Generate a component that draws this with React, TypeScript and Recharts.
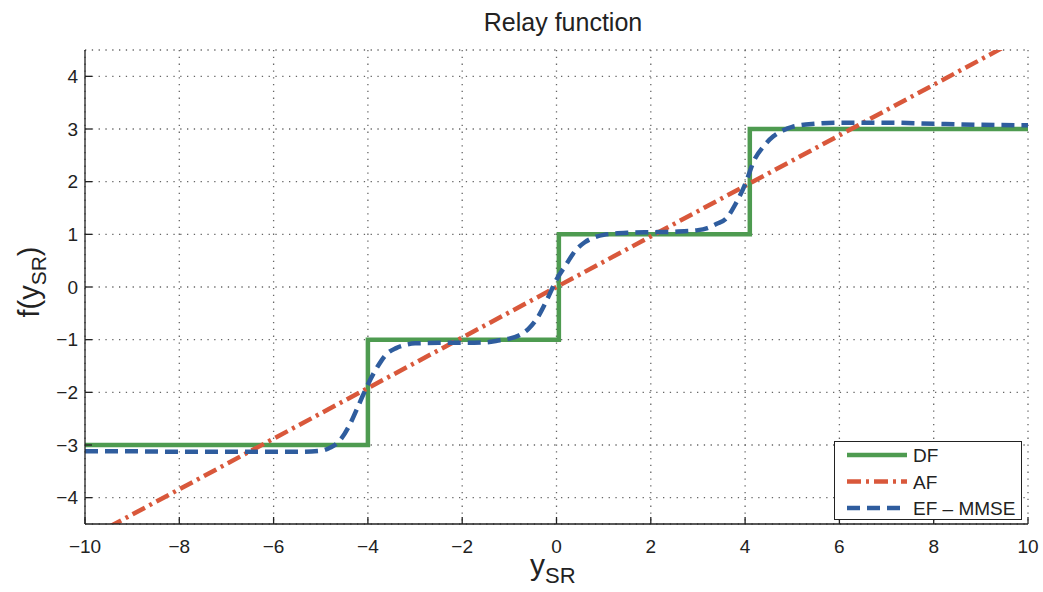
import { LineChart, Line, XAxis, YAxis, CartesianGrid, Legend } from 'recharts';

const xTicks = [-10, -8, -6, -4, -2, 0, 2, 4, 6, 8, 10];
const yTicks = [-4, -3, -2, -1, 0, 1, 2, 3, 4];

// DF - hard decision staircase
const dfX = [-10, -4, -4, 0.05, 0.05, 4.1, 4.1, 10];
const dfY = [-3, -3, -1, -1, 1, 1, 3, 3];

// AF - straight line (runs out of the box at both ends)
const afX = [-10, 10];
const afY = [-4.8, 4.8];

// EF - MMSE, smoothed steps
const efX = [-10, -9, -8, -7, -6, -5.5, -5, -4.8, -4.6, -4.4, -4.2, -4, -3.8, -3.6, -3.4, -3.2, -3, -2.5, -2, -1.5, -1.2, -1, -0.8, -0.6, -0.4, -0.2, 0, 0.2, 0.4, 0.6, 0.8, 1, 1.5, 2, 2.5, 3, 3.2, 3.4, 3.6, 3.8, 4, 4.2, 4.4, 4.6, 4.8, 5, 5.5, 6, 7, 8, 9, 10];
const efY = [-3.12, -3.12, -3.13, -3.13, -3.13, -3.13, -3.11, -3.05, -2.92, -2.64, -2.25, -1.85, -1.52, -1.27, -1.16, -1.1, -1.07, -1.06, -1.06, -1.05, -1.01, -0.98, -0.92, -0.8, -0.58, -0.24, 0.14, 0.42, 0.69, 0.85, 0.94, 0.99, 1.03, 1.04, 1.05, 1.08, 1.12, 1.2, 1.3, 1.58, 1.95, 2.42, 2.68, 2.86, 2.97, 3.04, 3.1, 3.12, 3.12, 3.1, 3.08, 3.07];

const toPoints = (xs: number[], ys: number[]) => xs.map((x, i) => ({ x, y: ys[i] }));

const dfData = toPoints(dfX, dfY);
const afData = toPoints(afX, afY);
const efData = toPoints(efX, efY);

const FONT = '"Liberation Sans", Arial, Helvetica, sans-serif';
const INK = '#222';

const seriesStyle: Record<string, { color: string; dash?: string; width: number }> = {
  DF: { color: '#4e9b50', width: 4.5 },
  AF: { color: '#d9583b', dash: '14 5 3 5', width: 4.5 },
  'EF \u2013 MMSE': { color: '#2f5d9e', dash: '13 7', width: 4.5 },
};

const minus = (v: number) => String(v).replace('-', '\u2212');

const LegendBox = () => {
  const names = Object.keys(seriesStyle);
  return (
    <div
      style={{
        width: 188,
        height: 79,
        border: `1.5px solid ${INK}`,
        background: '#fff',
        boxSizing: 'border-box',
      }}
    >
      <svg width={186} height={77} style={{ display: 'block' }}>
        {names.map((name, i) => {
          const s = seriesStyle[name];
          const cy = 13 + i * 26.5;
          return (
            <g key={name}>
              <line x1={12} x2={72} y1={cy} y2={cy} stroke={s.color} strokeWidth={s.width} strokeDasharray={s.dash} />
              <text x={78} y={cy + 7} fontSize={19} fill={INK} fontFamily={FONT}>
                {name}
              </text>
            </g>
          );
        })}
      </svg>
    </div>
  );
};

const axisCommon = {
  stroke: INK,
  tickSize: -7,
  allowDataOverflow: true,
  axisLine: { stroke: INK, strokeWidth: 1.3 },
  tickLine: { stroke: INK, strokeWidth: 1.3 },
};

export default function App() {
  return (
    <div style={{ position: 'absolute', left: 0, top: 0, width: 1043, height: 592, background: '#fff', fontFamily: FONT }}>
      <LineChart width={1043} height={592} margin={{ top: 50, right: 15, bottom: 0, left: 0 }}>
        <CartesianGrid stroke="#666" strokeWidth={1.3} strokeDasharray="1.3 5.5" />
        <XAxis
          {...axisCommon}
          dataKey="x"
          type="number"
          domain={[-10, 10]}
          ticks={xTicks}
          height={68}
          tickMargin={23}
          tickFormatter={minus}
          tick={{ fontSize: 19, fill: INK, fontFamily: FONT }}
        />
        <XAxis
          {...axisCommon}
          xAxisId="top"
          orientation="top"
          type="number"
          domain={[-10, 10]}
          ticks={xTicks}
          height={0}
          tick={false}
        />
        <YAxis
          {...axisCommon}
          type="number"
          domain={[-4.5, 4.5]}
          ticks={yTicks}
          width={85}
          tickMargin={14}
          tickFormatter={minus}
          tick={{ fontSize: 19, fill: INK, fontFamily: FONT }}
        />
        <YAxis
          {...axisCommon}
          yAxisId="right"
          orientation="right"
          type="number"
          domain={[-4.5, 4.5]}
          ticks={yTicks}
          width={0}
          tick={false}
        />
        <Line
          data={dfData}
          dataKey="y"
          name="DF"
          type="linear"
          stroke={seriesStyle.DF.color}
          strokeWidth={seriesStyle.DF.width}
          dot={false}
          isAnimationActive={false}
        />
        <Line
          data={afData}
          dataKey="y"
          name="AF"
          type="linear"
          stroke={seriesStyle.AF.color}
          strokeWidth={seriesStyle.AF.width}
          strokeDasharray={seriesStyle.AF.dash}
          dot={false}
          isAnimationActive={false}
        />
        <Line
          data={efData}
          dataKey="y"
          name={'EF \u2013 MMSE'}
          type="monotone"
          stroke={seriesStyle['EF \u2013 MMSE'].color}
          strokeWidth={seriesStyle['EF \u2013 MMSE'].width}
          strokeDasharray={seriesStyle['EF \u2013 MMSE'].dash}
          dot={false}
          isAnimationActive={false}
        />
        <Legend
          layout="vertical"
          align="center"
          verticalAlign="middle"
          content={() => <LegendBox />}
          wrapperStyle={{ left: 834, top: 441, width: 188, height: 79 }}
        />
      </LineChart>

      <div style={{ position: 'absolute', left: 463, top: 8, width: 200, textAlign: 'center', fontSize: 25, color: INK }}>
        Relay function
      </div>

      <div
        style={{
          position: 'absolute',
          left: 32,
          top: 282,
          transform: 'translate(-50%, -50%) rotate(-90deg)',
          whiteSpace: 'nowrap',
          fontSize: 29,
          color: INK,
        }}
      >
        f(y<span style={{ fontSize: 21, verticalAlign: -7 }}>SR</span>)
      </div>

      <div style={{ position: 'absolute', left: 530, top: 548, whiteSpace: 'nowrap', fontSize: 30, color: INK }}>
        y<span style={{ fontSize: 22, verticalAlign: -8 }}>SR</span>
      </div>
    </div>
  );
}
